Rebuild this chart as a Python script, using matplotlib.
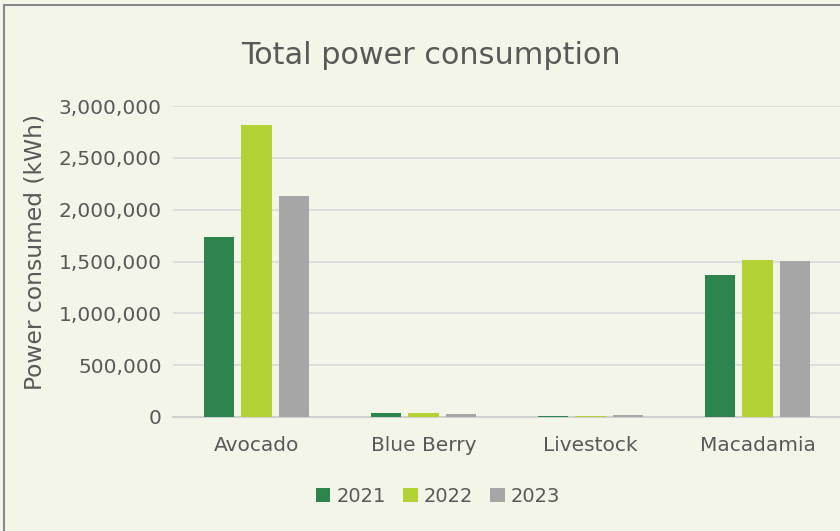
import numpy as np
import matplotlib
matplotlib.use("Agg")
import matplotlib.pyplot as plt
from matplotlib.patches import Rectangle
from matplotlib.ticker import FuncFormatter

# Power usage per farm section and year
categories = ["Avocado", "Blue Berry", "Livestock", "Macadamia"]
years = ["2021", "2022", "2023"]
kwh_2021 = [1736000, 35000, 10000, 1370000]
kwh_2022 = [2817000, 40000, 9000, 1514000]
kwh_2023 = [2132000, 33000, 16000, 1505000]
series = [kwh_2021, kwh_2022, kwh_2023]
colors = ["#2e844d", "#b2d235", "#a6a6a6"]

bg = "#f2f5e7"
txt = "#595959"
plt.rcParams["font.family"] = ["DejaVu Sans"]

fig = plt.figure(figsize=(8.4, 5.31), dpi=100, facecolor=bg)
ax = fig.add_axes([173 / 840, 1 - 417 / 531, 668 / 840, 311 / 531])
ax.set_facecolor(bg)

x = np.arange(len(categories))
width = 0.18
step = 0.222
for i, (vals, c) in enumerate(zip(series, colors)):
    ax.bar(x + (i - 1) * step, vals, width, color=c, label=years[i], zorder=3)

ax.set_xlim(-0.5, len(categories) - 0.5)
ax.set_ylim(0, 3000000)
ax.set_yticks(np.arange(0, 3000001, 500000))
ax.yaxis.set_major_formatter(FuncFormatter(lambda v, p: f"{int(v):,}"))
ax.grid(axis="y", color="#d9d9d9", lw=1.2, zorder=0)
ax.axhline(0, color="#d0d0d0", lw=1.5, zorder=2, clip_on=False)
for s in ax.spines.values():
    s.set_visible(False)
ax.tick_params(length=0, labelsize=14.5, labelcolor=txt)
ax.tick_params(axis="y", pad=8)
ax.tick_params(axis="x", pad=14)
ax.set_xticks(x)
ax.set_xticklabels(categories)

fig.text(35 / 840, 1 - 252 / 531, "Power consumed (kWh)", rotation=90,
         ha="center", va="center", fontsize=16.8, color=txt)
fig.text(431 / 840, 1 - 55 / 531, "Total power consumption", ha="center",
         va="center", fontsize=21.8, color=txt)

fig.legend(loc="center", bbox_to_anchor=(438 / 840, 1 - 496 / 531), ncol=3,
           frameon=False, fontsize=14, labelcolor=txt, handlelength=0.75,
           handleheight=0.75, handletextpad=0.3, columnspacing=0.9)

fig.patches.append(Rectangle((4 / 840, -0.05), 1.1, 1.05 - 5 / 531,
                             transform=fig.transFigure, fill=False,
                             edgecolor="#888888", lw=1.5))

fig.savefig("out.png", dpi=100, facecolor=bg)
